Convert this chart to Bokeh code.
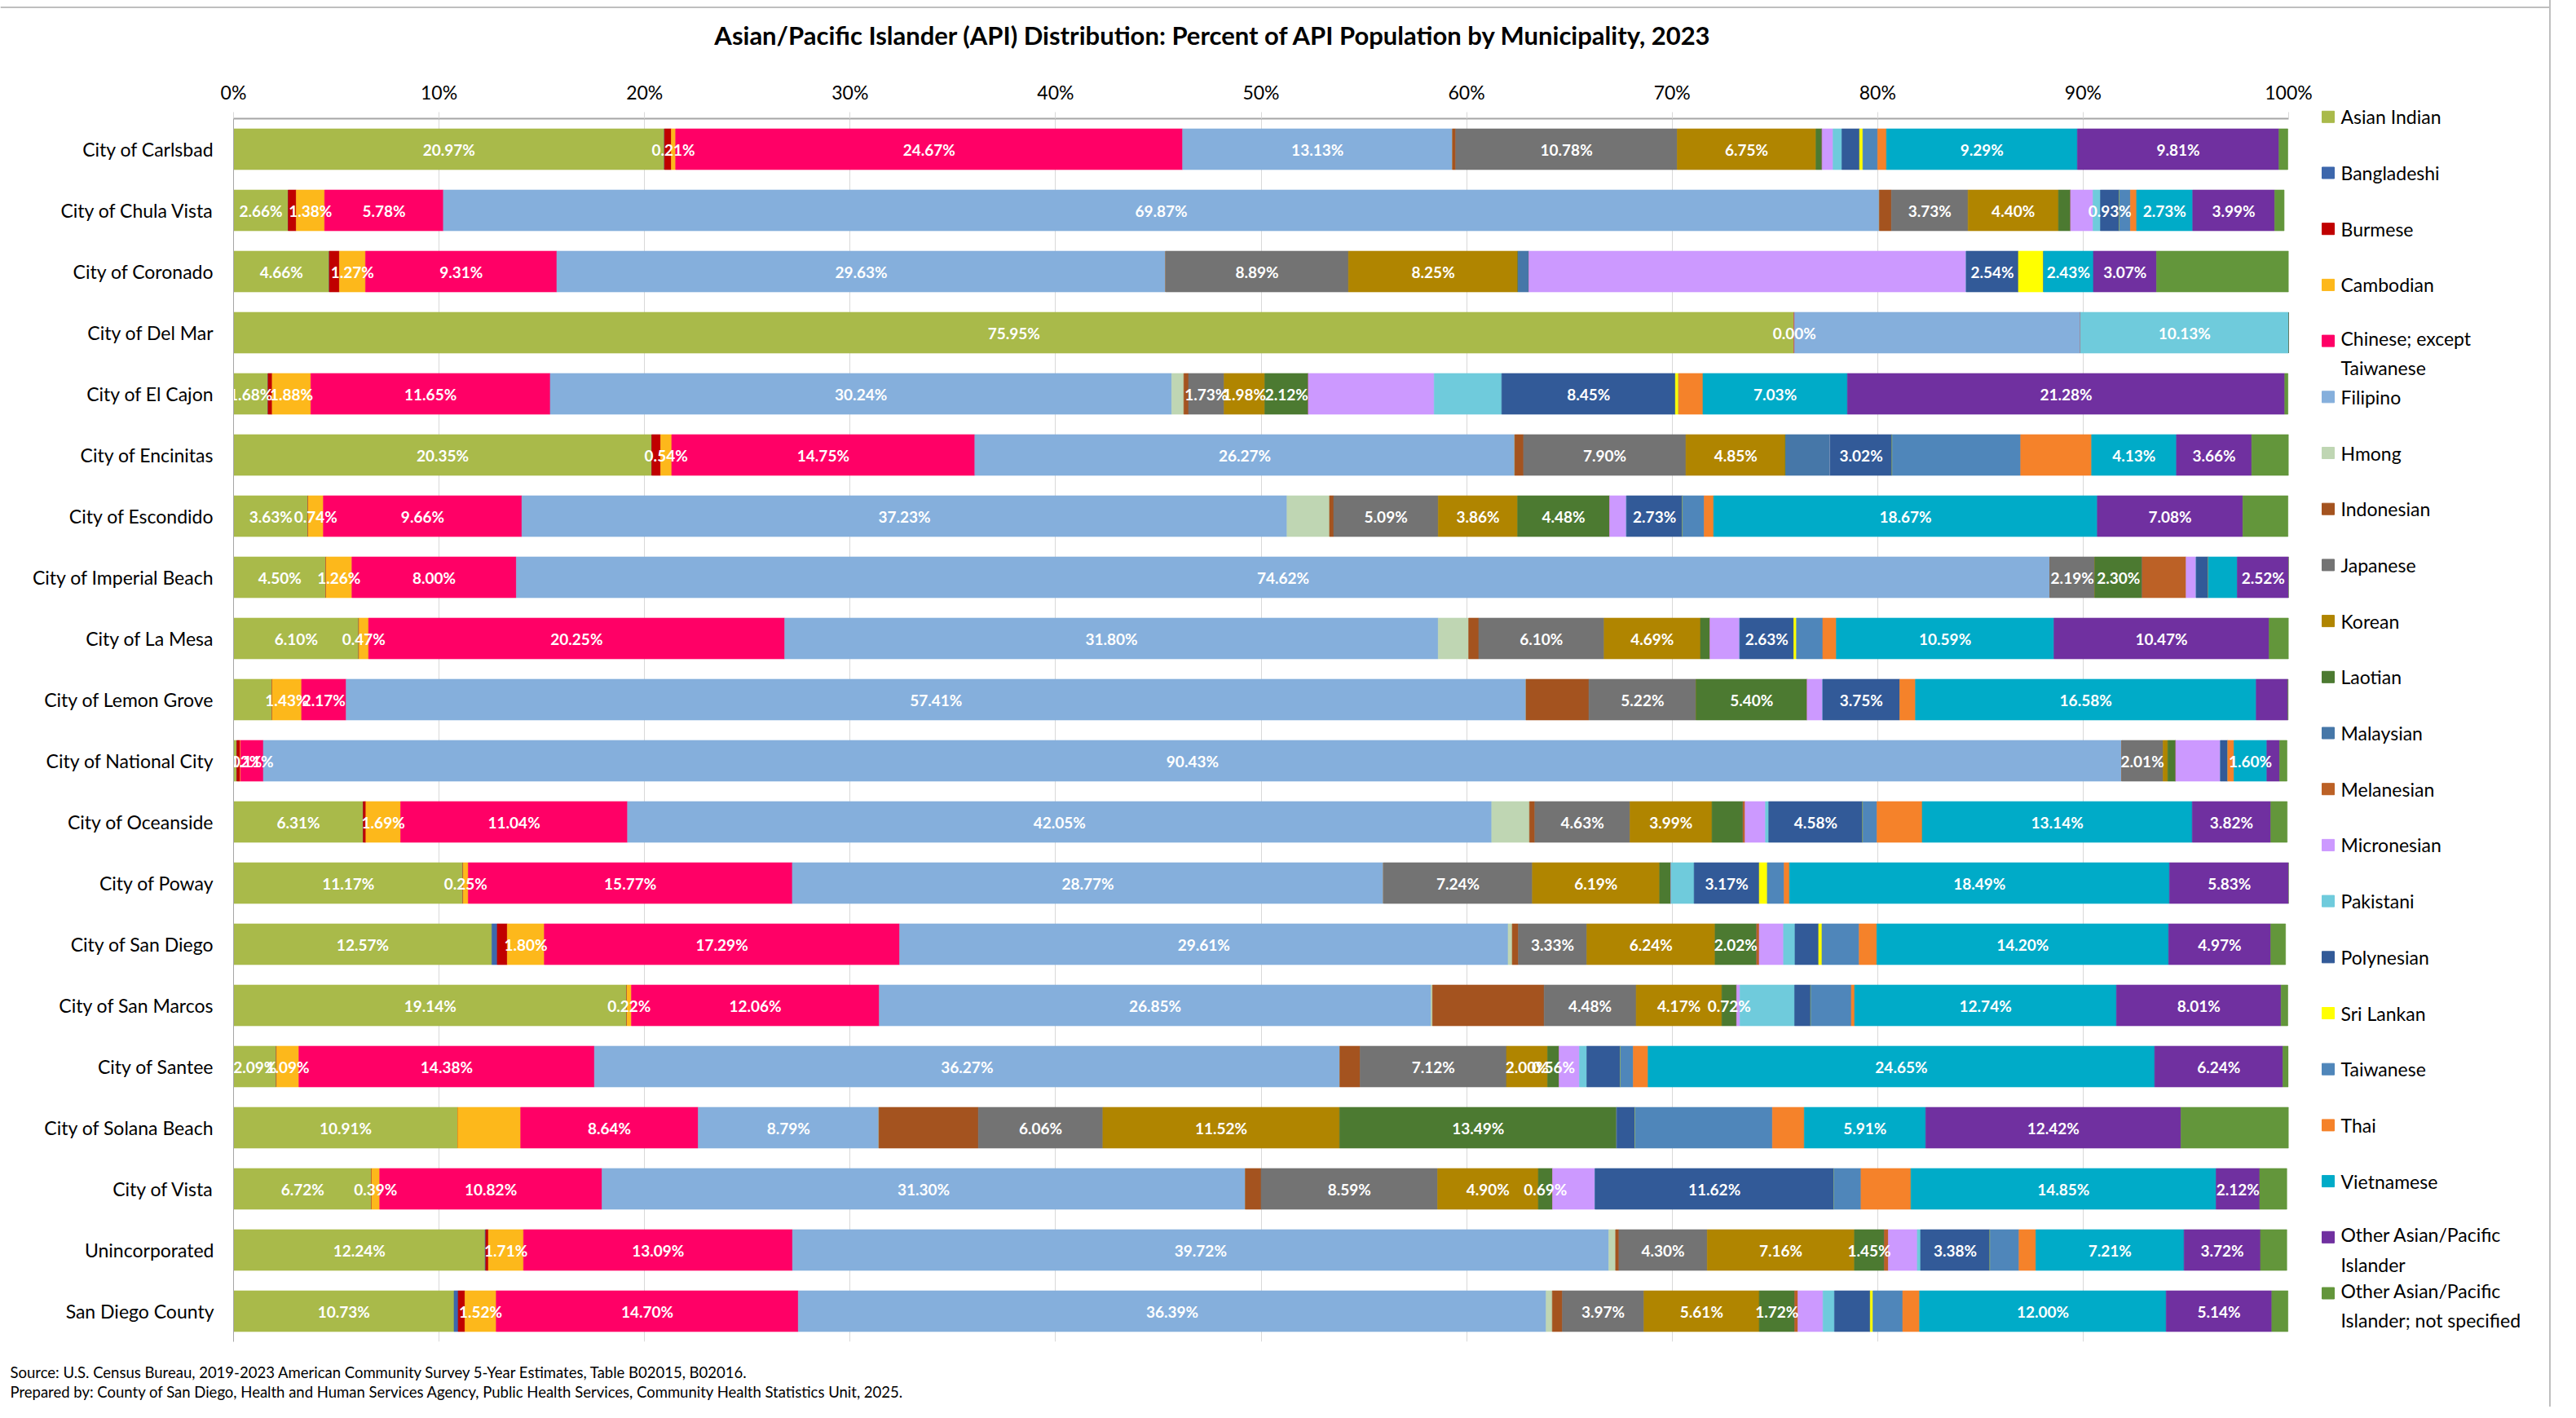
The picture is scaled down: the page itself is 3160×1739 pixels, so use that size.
import numpy as np
from bokeh.plotting import figure
from bokeh.models import ColumnDataSource, FactorRange, Range1d, FixedTicker, PrintfTickFormatter
from bokeh.layouts import row, column
from bokeh.core.properties import value
from bokeh.embed import file_html
from bokeh.resources import INLINE

# ---------------- data ----------------
municipalities = [
    "City of Carlsbad", "City of Chula Vista", "City of Coronado", "City of Del Mar",
    "City of El Cajon", "City of Encinitas", "City of Escondido", "City of Imperial Beach",
    "City of La Mesa", "City of Lemon Grove", "City of National City", "City of Oceanside",
    "City of Poway", "City of San Diego", "City of San Marcos", "City of Santee",
    "City of Solana Beach", "City of Vista", "Unincorporated", "San Diego County",
]

categories = [
    "Asian Indian", "Bangladeshi", "Burmese", "Cambodian", "Chinese; except Taiwanese",
    "Filipino", "Hmong", "Indonesian", "Japanese", "Korean", "Laotian", "Malaysian",
    "Melanesian", "Micronesian", "Pakistani", "Polynesian", "Sri Lankan", "Taiwanese",
    "Thai", "Vietnamese", "Other Asian/Pacific Islander",
    "Other Asian/Pacific Islander; not specified",
]

legend_labels = [
    "Asian Indian", "Bangladeshi", "Burmese", "Cambodian", "Chinese; except\nTaiwanese",
    "Filipino", "Hmong", "Indonesian", "Japanese", "Korean", "Laotian", "Malaysian",
    "Melanesian", "Micronesian", "Pakistani", "Polynesian", "Sri Lankan", "Taiwanese",
    "Thai", "Vietnamese", "Other Asian/Pacific\nIslander",
    "Other Asian/Pacific\nIslander; not specified",
]

asian_indian = [20.97, 2.66, 4.66, 75.95, 1.68, 20.35, 3.63, 4.50, 6.10, 1.88, 0.16, 6.31, 11.17, 12.57, 19.14, 2.09, 10.91, 6.72, 12.24, 10.73]
bangladeshi  = [0, 0, 0, 0, 0, 0, 0, 0, 0, 0, 0, 0, 0, 0.26, 0, 0, 0, 0, 0.03, 0.20]
burmese      = [0.33, 0.39, 0.49, 0, 0.20, 0.43, 0, 0, 0, 0, 0.16, 0.13, 0, 0.49, 0, 0, 0, 0, 0.13, 0.33]
cambodian    = [0.21, 1.38, 1.27, 0, 1.88, 0.54, 0.74, 1.26, 0.47, 1.43, 0.02, 1.69, 0.25, 1.80, 0.22, 1.09, 3.06, 0.39, 1.71, 1.52]
chinese      = [24.67, 5.78, 9.31, 0.00, 11.65, 14.75, 9.66, 8.00, 20.25, 2.17, 1.11, 11.04, 15.77, 17.29, 12.06, 14.38, 8.64, 10.82, 13.09, 14.70]
filipino     = [13.13, 69.87, 29.63, 13.92, 30.24, 26.27, 37.23, 74.62, 31.80, 57.41, 90.43, 42.05, 28.77, 29.61, 26.85, 36.27, 8.79, 31.30, 39.72, 36.39]
hmong        = [0, 0, 0, 0, 0.59, 0, 2.07, 0, 1.48, 0, 0, 1.84, 0, 0.20, 0.07, 0, 0, 0, 0.33, 0.30]
indonesian   = [0.16, 0.59, 0, 0, 0.23, 0.43, 0.20, 0, 0.49, 3.06, 0, 0.26, 0, 0.30, 5.43, 0.99, 4.84, 0.77, 0.16, 0.49]
japanese     = [10.78, 3.73, 8.89, 0, 1.73, 7.90, 5.09, 2.19, 6.10, 5.22, 2.01, 4.63, 7.24, 3.33, 4.48, 7.12, 6.06, 8.59, 4.30, 3.97]
korean       = [6.75, 4.40, 8.25, 0, 1.98, 4.85, 3.86, 0, 4.69, 0, 0.23, 3.99, 6.19, 6.24, 4.17, 2.00, 11.52, 4.90, 7.16, 5.61]
laotian      = [0.30, 0.59, 0, 0, 2.12, 0, 4.48, 2.30, 0.46, 5.40, 0.39, 1.51, 0.56, 2.02, 0.72, 0.56, 13.49, 0.69, 1.45, 1.72]
malaysian    = [0, 0, 0.53, 0, 0, 2.17, 0, 0, 0, 0, 0, 0, 0, 0, 0, 0, 0, 0, 0, 0]
melanesian   = [0, 0, 0, 0, 0, 0, 0, 2.14, 0, 0, 0, 0.10, 0, 0.13, 0, 0, 0, 0, 0.20, 0.16]
micronesian  = [0.53, 1.09, 21.28, 0, 6.12, 0, 0.82, 0.49, 1.45, 0.76, 2.17, 0.99, 0, 1.18, 0.16, 0.99, 0, 2.07, 1.41, 1.22]
pakistani    = [0.43, 0.36, 0, 10.13, 3.29, 0, 0, 0, 0, 0, 0, 0.16, 1.12, 0.56, 2.66, 0.36, 0, 0, 0.16, 0.56]
polynesian   = [0.86, 0.93, 2.54, 0, 8.45, 3.02, 2.73, 0.59, 2.63, 3.75, 0.36, 4.58, 3.17, 1.15, 0.79, 1.64, 0.89, 11.62, 3.38, 1.74]
sri_lankan   = [0.16, 0, 1.22, 0, 0.16, 0, 0, 0, 0.13, 0, 0, 0, 0.39, 0.16, 0, 0, 0, 0, 0, 0.13]
taiwanese    = [0.72, 0.53, 0, 0, 0, 6.25, 1.05, 0, 1.28, 0, 0, 0.69, 0.82, 1.81, 1.97, 0.62, 6.68, 1.32, 1.41, 1.45]
thai         = [0.43, 0.30, 0, 0, 1.18, 3.45, 0.46, 0, 0.66, 0.76, 0.30, 2.20, 0.26, 0.86, 0.16, 0.72, 1.55, 2.43, 0.82, 0.82]
vietnamese   = [9.29, 2.73, 2.43, 0, 7.03, 4.13, 18.67, 1.41, 10.59, 16.58, 1.60, 13.14, 18.49, 14.20, 12.74, 24.65, 5.91, 14.85, 7.21, 12.00]
other_api    = [9.81, 3.99, 3.07, 0, 21.28, 3.66, 7.08, 2.52, 10.47, 1.55, 0.62, 3.82, 5.83, 4.97, 8.01, 6.24, 12.42, 2.12, 3.72, 5.14]
other_api_ns = [0.43, 0.46, 6.45, 0, 0.16, 1.84, 2.20, 0, 0.99, 0, 0.36, 0.80, 0, 0.72, 0.33, 0.26, 5.24, 1.32, 1.28, 0.79]

series = [asian_indian, bangladeshi, burmese, cambodian, chinese, filipino, hmong, indonesian,
          japanese, korean, laotian, malaysian, melanesian, micronesian, pakistani, polynesian,
          sri_lankan, taiwanese, thai, vietnamese, other_api, other_api_ns]

# which category indices carry a data label, per municipality
labeled = [
    [0, 3, 4, 5, 8, 9, 19, 20],
    [0, 3, 4, 5, 8, 9, 15, 19, 20],
    [0, 3, 4, 5, 8, 9, 15, 19, 20],
    [0, 4, 14],
    [0, 3, 4, 5, 8, 9, 10, 15, 19, 20],
    [0, 3, 4, 5, 8, 9, 15, 19, 20],
    [0, 3, 4, 5, 8, 9, 10, 15, 19, 20],
    [0, 3, 4, 5, 8, 10, 20],
    [0, 3, 4, 5, 8, 9, 15, 19, 20],
    [3, 4, 5, 8, 10, 15, 19],
    [3, 4, 5, 8, 19],
    [0, 3, 4, 5, 8, 9, 15, 19, 20],
    [0, 3, 4, 5, 8, 9, 15, 19, 20],
    [0, 3, 4, 5, 8, 9, 10, 19, 20],
    [0, 3, 4, 5, 8, 9, 10, 19, 20],
    [0, 3, 4, 5, 8, 9, 10, 19, 20],
    [0, 4, 5, 8, 9, 10, 19, 20],
    [0, 3, 4, 5, 8, 9, 10, 15, 19, 20],
    [0, 3, 4, 5, 8, 9, 10, 15, 19, 20],
    [0, 3, 4, 5, 8, 9, 10, 19, 20],
]

colors = [
    "#A9BA4A", "#3D67AC", "#C00000", "#FDB81B", "#FF0066", "#85AFDC", "#BFD6B3", "#A4531F",
    "#737373", "#B08500", "#4C7A31", "#4677A8", "#BC6126", "#CC99FF", "#6FCBDC", "#325A98",
    "#FFFF00", "#4F86BA", "#F5822A", "#00ABC8", "#7030A0", "#63963B",
]

tick_values = list(range(0, 101, 10))

TITLE = "Asian/Pacific Islander (API) Distribution: Percent of API Population by Municipality, 2023"
SOURCE = "Source: U.S. Census Bureau, 2019-2023 American Community Survey 5-Year Estimates, Table B02015, B02016."
PREPARED = ("Prepared by: County of San Diego, Health and Human Services Agency, Public Health Services, "
            "Community Health Statistics Unit, 2025.")

FONT = "Lato"
W, LW = 2838, 289           # chart width, legend width
TOTAL_W = W + LW
HH, FH = 84, 70             # header / footer heights
H = 1571                    # chart height


def blank(width, height):
    f = figure(width=width, height=height, x_range=Range1d(0, width), y_range=Range1d(height, 0),
               output_backend="svg", toolbar_location=None, min_border=0,
               x_axis_location=None, y_axis_location=None, frame_align=False)
    f.outline_line_color = None
    f.grid.visible = False
    return f


# ---------------- header (title + chart-area top border) ----------------
head = blank(TOTAL_W, HH)
head.segment(x0=[0], y0=[8.5], x1=[TOTAL_W], y1=[8.5], line_color="#BFBFBF", line_width=2)
head.text(x=[1488], y=[42.5], text=[TITLE], text_align="center", text_baseline="middle",
          text_color="#000000", text_font=value(FONT), text_font_style="bold",
          text_font_size=value("31px"))

# ---------------- main chart ----------------
p = figure(width=W, height=H,
           y_range=FactorRange(factors=municipalities[::-1]),
           x_range=Range1d(0, 100),
           x_axis_location="above",
           output_backend="svg", toolbar_location=None,
           min_border_left=286, min_border_right=31, min_border_top=61, min_border_bottom=10,
           frame_align=False)
p.outline_line_color = None
p.background_fill_color = "white"
p.border_fill_color = "white"

src = ColumnDataSource(dict(muni=municipalities, **{c: s for c, s in zip(categories, series)}))
p.hbar_stack(categories, y="muni", height=0.667, color=colors, line_width=0.6, source=src)

vals = np.array(series, dtype=float)
left = np.cumsum(vals, axis=0) - vals
mid = left + vals / 2.0
lx, ly, lt = [], [], []
for j, muni in enumerate(municipalities):
    for i in labeled[j]:
        lx.append(mid[i, j])
        ly.append(muni)
        lt.append(f"{vals[i, j]:.2f}%")
p.text(x=lx, y=ly, text=lt, text_align="center", text_baseline="middle",
       text_color="white", text_font=value(FONT), text_font_style="bold",
       text_font_size=value("19px"))

xa = p.xaxis[0]
xa.ticker = FixedTicker(ticks=tick_values)
xa.formatter = PrintfTickFormatter(format="%d%%")
xa.major_label_text_font = FONT
xa.major_label_text_font_size = "23px"
xa.major_label_text_color = "#000000"
xa.major_label_standoff = 11
xa.major_tick_out = 8
xa.major_tick_in = 0
xa.major_tick_line_color = "#D9D9D9"
xa.minor_tick_out = 0
xa.minor_tick_in = 0
xa.axis_line_color = "#A6A6A6"
xa.axis_line_width = 2

ya = p.yaxis[0]
ya.major_label_text_font = FONT
ya.major_label_text_font_size = "23px"
ya.major_label_text_color = "#000000"
ya.major_label_standoff = 18
ya.major_tick_line_color = None
ya.axis_line_color = "#A6A6A6"
ya.axis_line_width = 1

p.xgrid.ticker = FixedTicker(ticks=tick_values)
p.xgrid.grid_line_color = "#D9D9D9"
p.xgrid.grid_line_width = 1
p.ygrid.visible = False

# ---------------- legend panel ----------------
leg = blank(LW, H)
n = len(categories)
item_y = [58.8 + 68.7 * k for k in range(n)]
line_px = 30.0
text_y = [y + (lab.count("\n")) * line_px / 2.0 for y, lab in zip(item_y, legend_labels)]
leg.rect(x=[17.5] * n, y=item_y, width=15, height=14, color=colors)
leg.text(x=[33] * n, y=text_y, text=legend_labels, text_align="left", text_baseline="middle",
         text_color="#000000", text_font=value(FONT), text_font_size=value("23px"),
         text_line_height=line_px / 23.0)

# ---------------- footer (source notes) ----------------
foot = blank(TOTAL_W, FH)
foot.text(x=[12, 12], y=[27.5, 51.7], text=[SOURCE, PREPARED], text_align="left",
          text_baseline="middle", text_color="#000000", text_font=value(FONT),
          text_font_size=value("18.5px"))

layout = column(head, row(p, leg), foot, styles={"border-right": "2px solid #BFBFBF"})

open("out.html", "w").write(file_html(layout, INLINE))
